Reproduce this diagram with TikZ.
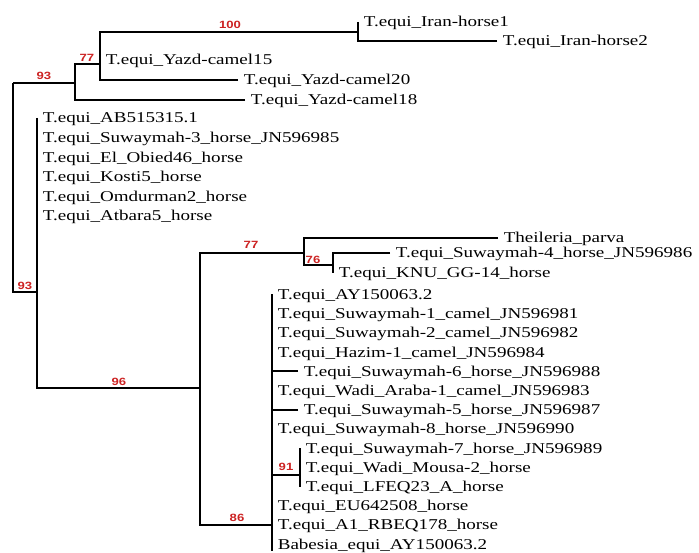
\documentclass[tikz,border=0pt]{standalone}
\usepackage{fontspec}
\setmainfont{Liberation Serif}[FakeStretch=1.27]
\newfontfamily\supfont{Liberation Sans}[FakeStretch=1.25]
\definecolor{supred}{RGB}{204,34,34}
\begin{document}
\begin{tikzpicture}[x=1pt,y=-1pt,
  line width=1.6pt, line join=miter,
  leaf/.style={anchor=west, inner xsep=5pt, inner ysep=0pt, text height=10pt, text depth=0pt,
    font=\fontsize{15}{15}\selectfont},
  sup/.style={text=supred, inner sep=0pt, font=\supfont\bfseries\fontsize{10.5}{10.5}\selectfont},
  br/.style={draw=black}]
\useasboundingbox (0,0) rectangle (699,553);
% internal nodes
\coordinate (root) at (13,83);
\coordinate (n77) at (75,83);
\coordinate (n100) at (100,64);
\coordinate (n358) at (358,32);
\coordinate (n37) at (37,292);
\coordinate (n200) at (200,388);
\coordinate (n304) at (304,253);
\coordinate (n333) at (333,265);
\coordinate (n272) at (272,525);
\coordinate (n272end) at (272,551);
\coordinate (n91) at (300,475);
% leaves
\node[leaf] (l1) at (358,22) {T.equi\_Iran-horse1};
\node[leaf] (l2) at (497,41) {T.equi\_Iran-horse2};
\node[leaf] (l3) at (100,60) {T.equi\_Yazd-camel15};
\node[leaf] (l4) at (238,80) {T.equi\_Yazd-camel20};
\node[leaf] (l5) at (245,100) {T.equi\_Yazd-camel18};
\node[leaf] (a1) at (37,118) {T.equi\_AB515315.1};
\node[leaf] (a2) at (37,138) {T.equi\_Suwaymah-3\_horse\_JN596985};
\node[leaf] (a3) at (37,157.5) {T.equi\_El\_Obied46\_horse};
\node[leaf] (a4) at (37,177) {T.equi\_Kosti5\_horse};
\node[leaf] (a5) at (37,196.5) {T.equi\_Omdurman2\_horse};
\node[leaf] (a6) at (37,216) {T.equi\_Atbara5\_horse};
\node[leaf] (t1) at (498,238) {Theileria\_parva};
\node[leaf] (t2) at (390,253) {T.equi\_Suwaymah-4\_horse\_JN596986};
\node[leaf] (t3) at (333,273) {T.equi\_KNU\_GG-14\_horse};
\node[leaf] (b0) at (272,294.5) {T.equi\_AY150063.2};
\node[leaf] (b1) at (272,313.7) {T.equi\_Suwaymah-1\_camel\_JN596981};
\node[leaf] (b2) at (272,332.9) {T.equi\_Suwaymah-2\_camel\_JN596982};
\node[leaf] (b3) at (272,352.1) {T.equi\_Hazim-1\_camel\_JN596984};
\node[leaf] (b4) at (298,371.3) {T.equi\_Suwaymah-6\_horse\_JN596988};
\node[leaf] (b5) at (272,390.5) {T.equi\_Wadi\_Araba-1\_camel\_JN596983};
\node[leaf] (b6) at (298,409.7) {T.equi\_Suwaymah-5\_horse\_JN596987};
\node[leaf] (b7) at (272,428.9) {T.equi\_Suwaymah-8\_horse\_JN596990};
\node[leaf] (b8) at (300,448.1) {T.equi\_Suwaymah-7\_horse\_JN596989};
\node[leaf] (b9) at (300,467.3) {T.equi\_Wadi\_Mousa-2\_horse};
\node[leaf] (b10) at (300,486.5) {T.equi\_LFEQ23\_A\_horse};
\node[leaf] (b11) at (272,505.7) {T.equi\_EU642508\_horse};
\node[leaf] (b12) at (272,524.9) {T.equi\_A1\_RBEQ178\_horse};
\node[leaf] (b13) at (272,544.1) {Babesia\_equi\_AY150063.2};
% branches
\draw[br] (l1.west) -| (n358);
\draw[br] (l2.west) -| (n358);
\draw[br] (n358) -| (n100);
\draw[br] (l3.west) -| (n100);
\draw[br] (l4.west) -| (n100);
\draw[br] (n100) -| (n77);
\draw[br] (l5.west) -| (n77);
\draw[br] (n77) -| (root);
\draw[br] (n37) -| (root);
\foreach \l in {a1,a2,a3,a4,a5,a6} {\draw[br] (\l.west) -| (n37);}
\draw[br] (n200) -| (n37);
\draw[br] (n304) -| (n200);
\draw[br] (n272) -| (n200);
\draw[br] (t1.west) -| (n304);
\draw[br] (n333) -| (n304);
\draw[br] (t2.west) -| (n333);
\draw[br] (t3.west) -| (n333);
\foreach \l in {b0,b1,b2,b3,b4,b5,b6,b7,b11,b12,b13} {\draw[br] (\l.west) -| (n272);}
\draw[br] (n272) -- (n272end);
\draw[br] (n91) -| (n272);
\foreach \l in {b8,b9,b10} {\draw[br] (\l.west) -| (n91);}
% support values
\node[sup] (s100) at (230,25) {100};
\node[sup] (s77a) at (87,58) {77};
\node[sup] (s93a) at (44,76) {93};
\node[sup] (s93b) at (25,286) {93};
\node[sup] (s96) at (119,382) {96};
\node[sup] (s77b) at (251,245) {77};
\node[sup] (s76) at (313,260) {76};
\node[sup] (s91) at (286,467) {91};
\node[sup] (s86) at (237,518) {86};
\end{tikzpicture}
\end{document}
